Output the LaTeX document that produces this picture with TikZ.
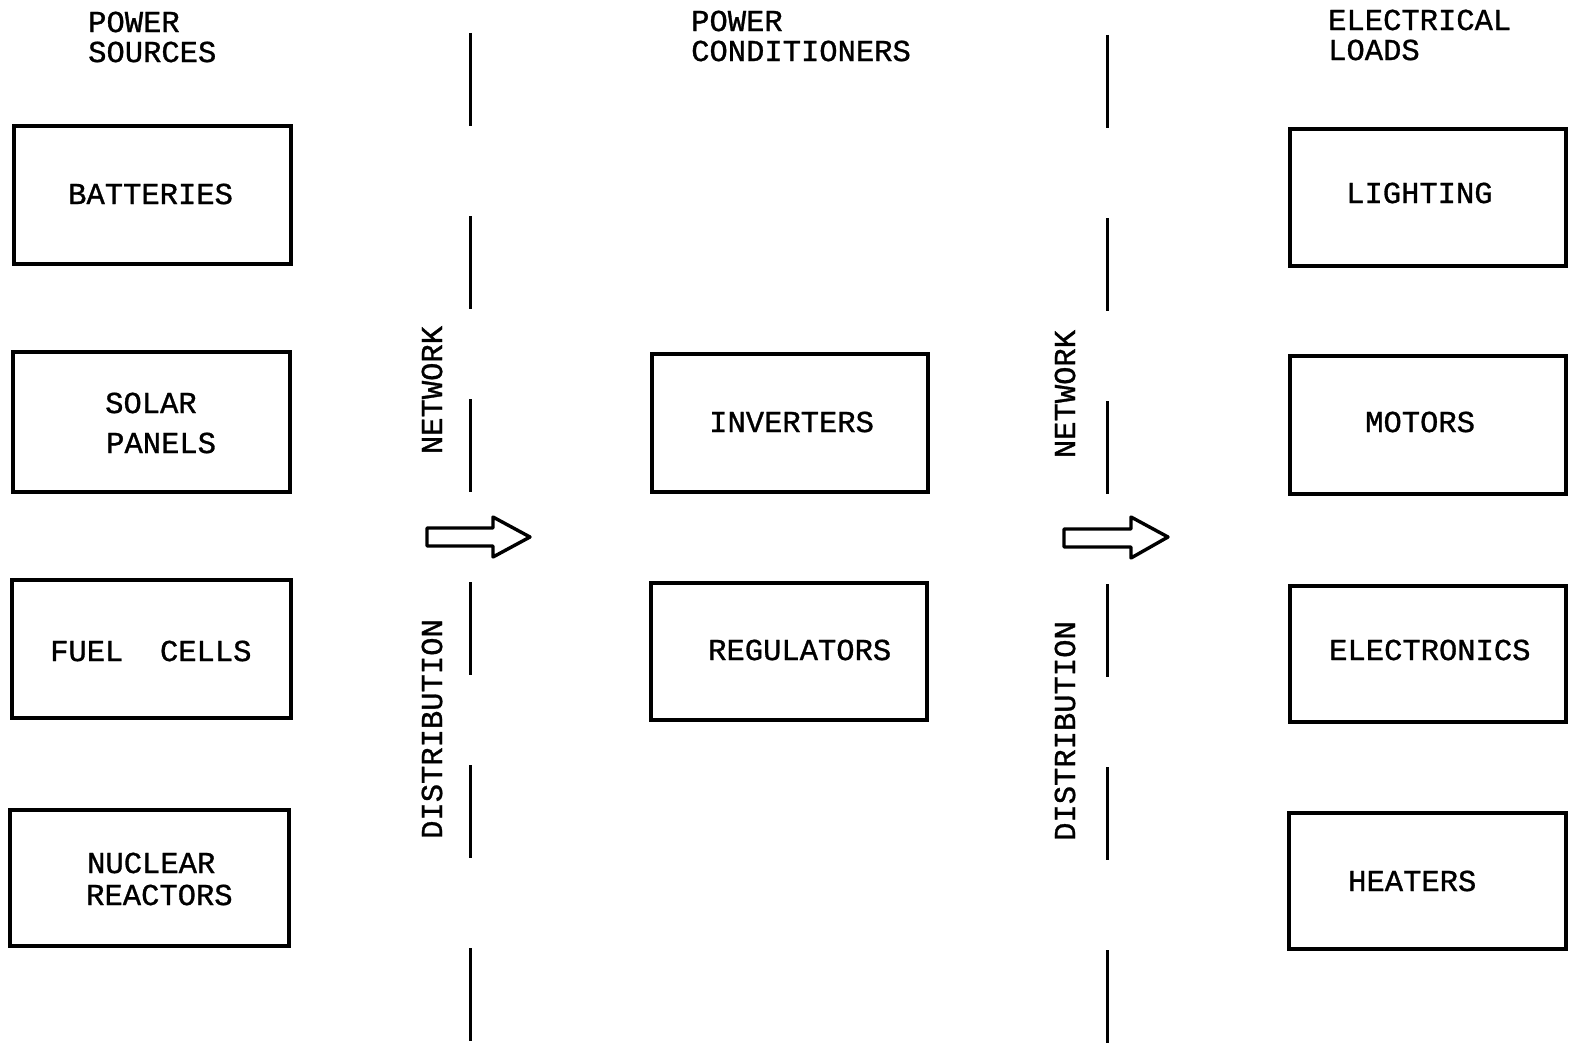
\documentclass[tikz,border=0pt]{standalone}
\usepackage{fontspec}
\newfontfamily\tw[BoldFont=Liberation Mono,BoldFeatures={FakeBold=1}]{Liberation Mono}
\begin{document}
\begin{tikzpicture}[x=1pt,y=-1pt,
  box/.style={draw,line width=3.2pt,inner sep=0pt},
  txt/.style={inner sep=0pt,anchor=west,font=\tw\bfseries\fontsize{30.5}{36}\selectfont},
  vtxt/.style={inner sep=0pt,rotate=90,font=\tw\bfseries\fontsize{30.5}{36}\selectfont},
  divider/.style={line width=3pt,dash pattern=on 93pt off 90pt},
  blockarrow/.style={draw,line width=3.4pt,line join=round,fill=white}]
\useasboundingbox (0,0) rectangle (1569,1046);

% column headings
\node[txt] (h1a) at (88,22) {POWER};
\node[txt] (h1b) at (88,52) {SOURCES};
\node[txt] (h2a) at (691,21) {POWER};
\node[txt] (h2b) at (691,51) {CONDITIONERS};
\node[txt] (h3a) at (1328,20) {ELECTRICAL};
\node[txt] (h3b) at (1328,50) {LOADS};

% power sources
\node[box,minimum width=277pt,minimum height=138pt] (bat) at (152.5,195) {};
\node[box,minimum width=277pt,minimum height=140pt] (sol) at (151.5,422) {};
\node[box,minimum width=279pt,minimum height=138pt] (fuel) at (151.5,649) {};
\node[box,minimum width=279pt,minimum height=136pt] (nuc) at (149.5,878) {};
\node[txt] (batT) at (68,194) {BATTERIES};
\node[txt] (solT1) at (105,403) {SOLAR};
\node[txt] (solT2) at (106,443) {PANELS};
\node[txt] (fuelT) at (50,651) {FUEL\ \ CELLS};
\node[txt] (nucT1) at (87,863) {NUCLEAR};
\node[txt] (nucT2) at (86,895) {REACTORS};

% power conditioners
\node[box,minimum width=276pt,minimum height=138pt] (inv) at (790,423) {};
\node[box,minimum width=276pt,minimum height=137pt] (reg) at (789,651.5) {};
\node[txt] (invT) at (709,422) {INVERTERS};
\node[txt] (regT) at (708,650) {REGULATORS};

% electrical loads
\node[box,minimum width=276pt,minimum height=137pt] (lig) at (1428,197.5) {};
\node[box,minimum width=276pt,minimum height=138pt] (mot) at (1428,425) {};
\node[box,minimum width=276pt,minimum height=136pt] (ele) at (1428,654) {};
\node[box,minimum width=277pt,minimum height=136pt] (hea) at (1427.5,881) {};
\node[txt] (ligT) at (1346,193) {LIGHTING};
\node[txt] (motT) at (1365,422) {MOTORS};
\node[txt] (eleT) at (1329,650) {ELECTRONICS};
\node[txt] (heaT) at (1348,881) {HEATERS};

% distribution network dividers
\coordinate (d1t) at (470,33);
\coordinate (d1b) at (470,1041);
\coordinate (d2t) at (1107,35);
\coordinate (d2b) at (1107,1043);
\draw[divider] (d1t) -- (d1b);
\draw[divider] (d2t) -- (d2b);
\node[vtxt] (n1) at (432,390) {NETWORK};
\node[vtxt] (s1) at (432,729) {DISTRIBUTION};
\node[vtxt] (n2) at (1065,394) {NETWORK};
\node[vtxt] (s2) at (1065,731) {DISTRIBUTION};

% flow arrows
\draw[blockarrow] (427,528) -- (493,528) -- (493,517) -- (530,537)
  -- (493,557) -- (493,546) -- (427,546) -- cycle;
\draw[blockarrow] (1064,529) -- (1131,529) -- (1131,517) -- (1168,537)
  -- (1131,558) -- (1131,547) -- (1064,547) -- cycle;
\end{tikzpicture}
\end{document}
